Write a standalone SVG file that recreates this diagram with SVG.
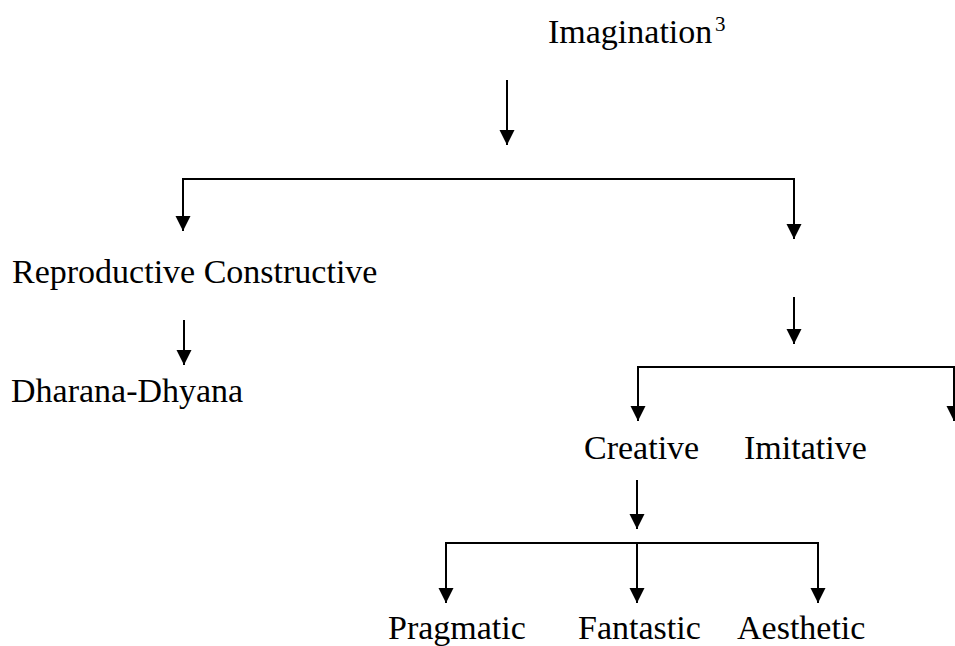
<svg xmlns="http://www.w3.org/2000/svg" width="955" height="646" viewBox="0 0 955 646">
<defs>
<marker id="ah" markerUnits="userSpaceOnUse" markerWidth="16" markerHeight="16" viewBox="0 0 16 16" refX="15" refY="8" orient="auto">
<path d="M0,0.5 L15,8 L0,15.5 Z" fill="#000"/>
</marker>
</defs>
<style>
.c{fill:none;stroke:#000;stroke-width:2;marker-end:url(#ah)}
</style>
<rect width="955" height="646" fill="#fff"/>
<g id="connectors">
<path class="c" d="M507,80 V145"/>
<path class="c" d="M194,179 H183 V231"/>
<path class="c" d="M183,179 H794 V239"/>
<path class="c" d="M184,320 V365"/>
<path class="c" d="M794,297 V344"/>
<path class="c" d="M648,367 H638 V421"/>
<path class="c" d="M638,367 H954 V421"/>
<path class="c" d="M637,480 V529"/>
<path class="c" d="M637,543 H446 V603"/>
<path class="c" d="M637,543 V603"/>
<path class="c" d="M637,543 H818 V603"/>
</g>
<g font-family="Liberation Serif, Times New Roman, serif" font-size="34" fill="#000">
<g id="imagination"><text x="548" y="43">Imagination</text><text x="715" y="31" font-size="21">3</text></g>
<g id="reproductive"><text x="12" y="283">Reproductive Constructive</text></g>
<g id="dharana"><text x="11" y="402">Dharana-Dhyana</text></g>
<g id="creative"><text x="584" y="459">Creative</text></g>
<g id="imitative"><text x="744" y="459">Imitative</text></g>
<g id="pragmatic"><text x="388" y="639">Pragmatic</text></g>
<g id="fantastic"><text x="578" y="639">Fantastic</text></g>
<g id="aesthetic"><text x="737" y="639">Aesthetic</text></g>
</g>
</svg>
